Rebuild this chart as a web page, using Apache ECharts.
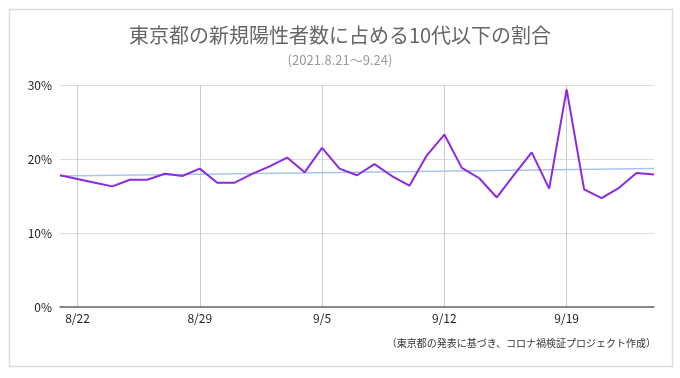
<!DOCTYPE html>
<html>
<head>
<meta charset="utf-8">
<script src="https://cdn.jsdelivr.net/npm/echarts@6/dist/echarts.min.js"></script>
<style>
  html, body { margin: 0; padding: 0; background: #fff; }
  #chart { width: 680px; height: 378px; }
</style>
</head>
<body>
<div id="chart"></div>
<script>
// 日付（2021.8.21〜9.24）
const dates = [
  '8/21', '8/22', '8/23', '8/24', '8/25', '8/26', '8/27', '8/28', '8/29', '8/30', '8/31',
  '9/1', '9/2', '9/3', '9/4', '9/5', '9/6', '9/7', '9/8', '9/9', '9/10', '9/11',
  '9/12', '9/13', '9/14', '9/15', '9/16', '9/17', '9/18', '9/19', '9/20', '9/21',
  '9/22', '9/23', '9/24'
]

// 10代以下の割合（%）
const ratio = [
  17.8, 17.3, 16.8, 16.3, 17.2, 17.2, 18.0, 17.7, 18.7, 16.8, 16.8,
  18.0, 19.0, 20.2, 18.2, 21.5, 18.7, 17.8, 19.3, 17.7, 16.4, 20.5,
  23.3, 18.8, 17.4, 14.8, 17.9, 20.9, 16.0, 29.4, 15.9, 14.7,
  16.1, 18.1, 17.9
]

// トレンドライン（始点・終点）
const trend = [['8/21', 17.7], ['9/24', 18.7]]

const yTicks = [0, 10, 20, 30]

const chart = echarts.init(document.getElementById('chart'))

// 週ごとのラベル（8/22 から7日おき）
const weekly = (idx) => (idx - 1) % 7 === 0

const option = {
  textStyle: { fontFamily: '"Noto Sans CJK JP", "Noto Sans", sans-serif' },
  graphic: [
    {
      type: 'rect',
      shape: { x: 9.5, y: 9.5, width: 663, height: 357 },
      style: { fill: 'none', stroke: '#dcdcdc', lineWidth: 1.5 },
      silent: true
    },
    {
      type: 'text',
      right: 24,
      top: 338,
      style: {
        text: '（東京都の発表に基づき、コロナ禍検証プロジェクト作成）',
        fontSize: 10,
        fill: '#333',
        fontFamily: '"Noto Sans CJK JP", sans-serif'
      }
    }
  ],
  title: {
    text: '東京都の新規陽性者数に占める10代以下の割合',
    subtext: '(2021.8.21〜9.24)',
    left: 'center',
    top: 20,
    itemGap: 9,
    textStyle: { fontSize: 20, fontWeight: 'normal', color: '#666' },
    subtextStyle: { fontSize: 13, color: '#999' }
  },
  grid: { left: 60, right: 26, top: 85, bottom: 71 },
  xAxis: {
    type: 'category',
    data: dates,
    boundaryGap: false,
    axisLine: { lineStyle: { color: '#666', width: 1.5 } },
    axisTick: { show: false },
    axisLabel: { interval: weekly, color: '#222', fontSize: 12, margin: 5 },
    splitLine: { show: true, interval: weekly, lineStyle: { color: '#ccc' } }
  },
  yAxis: {
    type: 'value',
    min: yTicks[0],
    max: yTicks[yTicks.length - 1],
    interval: 10,
    axisLine: { show: false },
    axisTick: { show: false },
    axisLabel: { formatter: '{value}%', color: '#222', fontSize: 12, margin: 8 },
    splitLine: { lineStyle: { color: '#ddd' } }
  },
  series: [
    {
      name: 'トレンド',
      type: 'line',
      data: trend,
      symbol: 'none',
      lineStyle: { color: '#a9c4eb', width: 1.5 },
      z: 1
    },
    {
      name: '割合',
      type: 'line',
      data: ratio,
      symbol: 'none',
      lineStyle: { color: '#8a2be2', width: 2 },
      z: 2
    }
  ]
}

chart.setOption(option)
</script>
</body>
</html>
